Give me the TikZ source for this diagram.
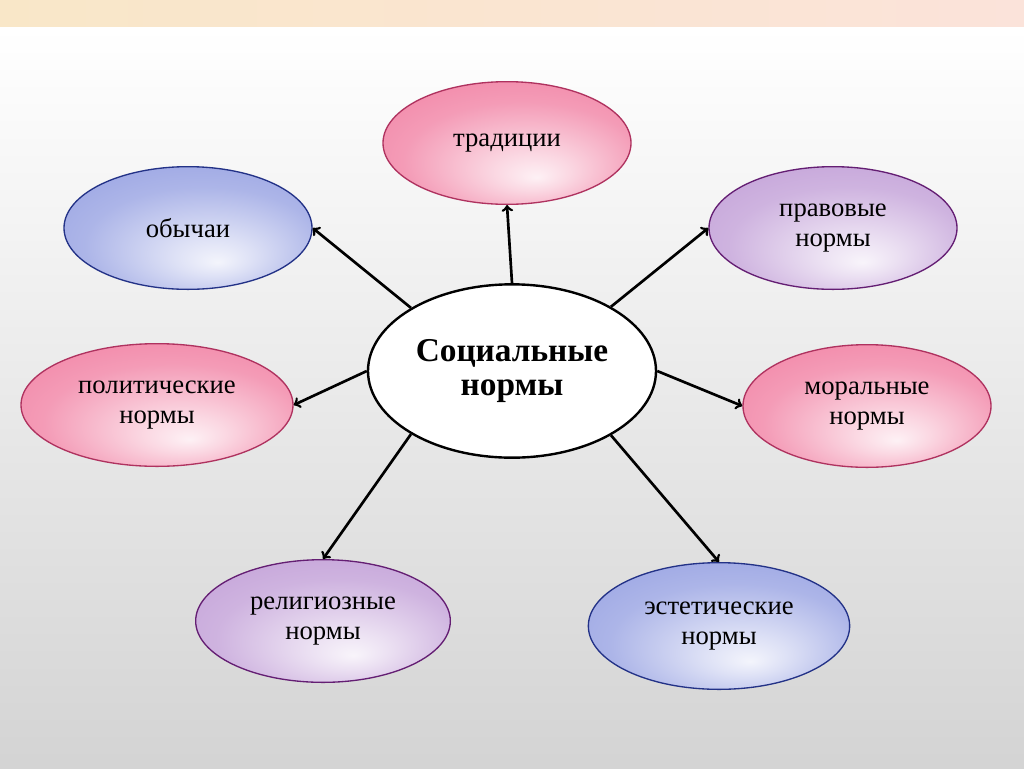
\documentclass[tikz,border=0pt]{standalone}
\usepackage{fontspec}
\setmainfont{Liberation Serif}
\usetikzlibrary{shapes.geometric}

\definecolor{pinkfill}{RGB}{242,138,170}
\definecolor{pinkedge}{RGB}{175,50,95}
\definecolor{bluefill}{RGB}{158,168,228}
\definecolor{blueedge}{RGB}{35,50,135}
\definecolor{purplefill}{RGB}{198,166,218}
\definecolor{purpleedge}{RGB}{100,30,115}
\definecolor{peachL}{RGB}{249,231,200}
\definecolor{peachR}{RGB}{251,227,218}

% light spot low in each ellipse
\pgfdeclareradialshading{pinkshade}{\pgfqpoint{6bp}{-14bp}}{color(0bp)=(pinkfill!12!white); color(8bp)=(pinkfill!35!white); color(24bp)=(pinkfill!85!white); color(34bp)=(pinkfill); color(50bp)=(pinkfill)}
\pgfdeclareradialshading{blueshade}{\pgfqpoint{6bp}{-14bp}}{color(0bp)=(bluefill!12!white); color(8bp)=(bluefill!35!white); color(24bp)=(bluefill!85!white); color(34bp)=(bluefill); color(50bp)=(bluefill)}
\pgfdeclareradialshading{purpleshade}{\pgfqpoint{6bp}{-14bp}}{color(0bp)=(purplefill!12!white); color(8bp)=(purplefill!35!white); color(24bp)=(purplefill!85!white); color(34bp)=(purplefill); color(50bp)=(purplefill)}

\tikzset{
  norm/.style={ellipse, line width=1pt, minimum width=186pt, minimum height=92pt,
    inner sep=0pt, align=center, font=\fontsize{20}{23}\selectfont},
  pinknorm/.style={norm, draw=pinkedge, shading=pinkshade},
  bluenorm/.style={norm, draw=blueedge, shading=blueshade},
  purplenorm/.style={norm, draw=purpleedge, shading=purpleshade},
  mainnorm/.style={ellipse, draw, line width=1.8pt, fill=white, minimum width=216pt,
    minimum height=130pt, inner sep=0pt, align=center,
    font=\fontsize{25}{26}\selectfont\bfseries},
  link/.style={line width=2pt, ->}
}

\begin{document}
\begin{tikzpicture}[x=0.75pt, y=-0.75pt]
\useasboundingbox (0,0) rectangle (1024,768);
%
\shade[left color=peachL, right color=peachR] (0,0) rectangle (1024,27);
\shade[top color=white, bottom color=gray!34] (0,27) rectangle (1024,768);
%
\node[mainnorm] (soc) at (512,371) {Социальные\\нормы};
%
\node[pinknorm] (trad) at (507,143) {традиции};
\node[bluenorm] (obych) at (188,228) {обычаи};
\node[purplenorm] (prav) at (833,228) {правовые\\нормы};
\node[pinknorm, minimum width=204pt] (polit) at (157,405) {политические\\нормы};
\node[pinknorm] (moral) at (867,406) {моральные\\нормы};
\node[purplenorm, minimum width=191pt] (relig) at (323,621) {религиозные\\нормы};
\node[bluenorm, minimum width=196pt, minimum height=95pt] (estet) at (719,626) {эстетические\\нормы};
%
\draw[link] (soc.north) -- (trad.south);
\draw[link] (soc.148) -- (obych.east);
\draw[link] (soc.33) -- (prav.west);
\draw[link] (soc.west) -- (polit.east);
\draw[link] (soc.east) -- (moral.west);
\draw[link] (soc.212) -- (relig.north);
\draw[link] (soc.327) -- (estet.north);
%
\end{tikzpicture}
\end{document}
